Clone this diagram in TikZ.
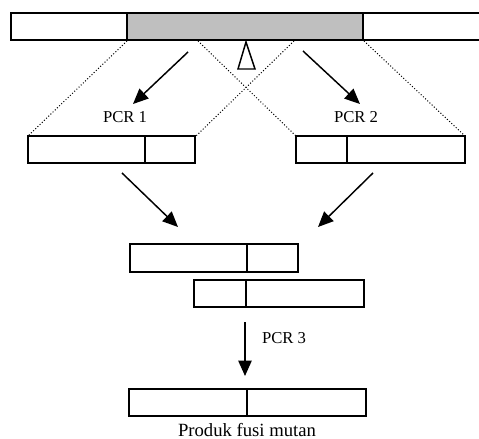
\documentclass[tikz,border=0pt]{standalone}
\usepackage{fontspec}
\setmainfont{Liberation Serif}
\usetikzlibrary{arrows.meta}

\tikzset{
  seg/.style={draw,line width=1.1pt},
  prim/.style={line width=1.1pt,-{Triangle[length=11.5pt,width=10pt]}},
  guide/.style={line width=0.75pt,dash pattern=on 0.75pt off 1.5pt},
  lbl/.style={anchor=base,inner sep=0pt,font=\fontsize{12.5}{14}\selectfont}
}

\begin{document}
\begin{tikzpicture}[x=0.75pt,y=-0.75pt]
  \useasboundingbox (0,0) rectangle (479,439);
  % template gene with the region to mutate
  \draw[seg,fill=gray!50] (127,13) rectangle (363,40);
  \draw[seg] (11,13) rectangle (127,40);
  \draw[seg] (363,13) -- (482,13) (363,40) -- (482,40);
  \draw[line width=1.1pt] (246,42) -- (238,69) -- (255,69) -- cycle;

  % fragments from PCR 1 and PCR 2
  \draw[seg] (28,136) rectangle (195,163) (145,136) -- (145,163);
  \draw[seg] (296,136) rectangle (465,163) (347,136) -- (347,163);
  \draw[guide] (127,41) -- (28,136) (198,41) -- (296,136);
  \draw[guide] (294,41) -- (196,136) (364,41) -- (465,136);

  \coordinate (p1a) at (188,52);  \coordinate (p1b) at (133,104);
  \coordinate (p2a) at (303,51);  \coordinate (p2b) at (360,104);
  \draw[prim] (p1a) -- (p1b);
  \draw[prim] (p2a) -- (p2b);
  \node[lbl] (pcr1) at (125,122) {PCR 1};
  \node[lbl] (pcr2) at (356,122) {PCR 2};

  % overlapping fragments
  \coordinate (m1a) at (122,173); \coordinate (m1b) at (178,227);
  \coordinate (m2a) at (373,173); \coordinate (m2b) at (318,227);
  \draw[prim] (m1a) -- (m1b);
  \draw[prim] (m2a) -- (m2b);
  \draw[seg] (130,244) rectangle (298,272) (247,244) -- (247,272);
  \draw[seg] (194,280) rectangle (364,307) (246,280) -- (246,307);

  % fusion by PCR 3
  \coordinate (p3a) at (245,322); \coordinate (p3b) at (245,376);
  \draw[prim] (p3a) -- (p3b);
  \node[lbl] (pcr3) at (284,343) {PCR 3};
  \draw[seg] (129,389) rectangle (366,416) (247,389) -- (247,416);
  \node[lbl,font=\fontsize{14}{16}\selectfont] (prod) at (247,436) {Produk fusi mutan};
\end{tikzpicture}
\end{document}
